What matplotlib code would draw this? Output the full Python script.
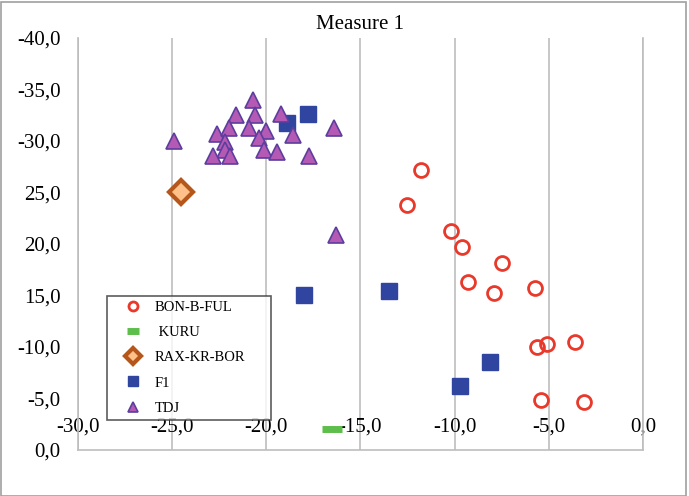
import matplotlib
matplotlib.use("Agg")
import matplotlib.pyplot as plt
from matplotlib.patches import Rectangle

plt.rcParams['font.family'] = ['Liberation Serif', 'DejaVu Serif']

# BON-B-FUL
bon_x = [-11.8, -12.5, -10.2, -9.6, -7.5, -9.3, -7.9, -5.7, -5.6, -5.1, -3.6, -5.4, -3.1]
bon_y = [-27.2, -23.8, -21.2, -19.7, -18.1, -16.3, -15.2, -15.7, -10.0, -10.3, -10.5, -4.8, -4.6]
# KURU
kuru_x = [-16.5]
kuru_y = [-2.0]
# RAX-KR-BOR
rax_x = [-24.5]
rax_y = [-25.0]
# F1
f1_x = [-18.9, -17.8, -18.0, -13.5, -8.1, -9.7]
f1_y = [-31.7, -32.6, -15.0, -15.4, -8.5, -6.2]
# TDJ
tdj_x = [-24.9, -20.7, -21.6, -20.6, -22.6, -22.0, -20.9, -20.0, -22.2, -20.4,
         -22.2, -22.8, -21.9, -20.1, -19.4, -19.2, -18.6, -17.7, -16.4, -16.3]
tdj_y = [-30.0, -34.0, -32.5, -32.5, -30.7, -31.2, -31.2, -30.9, -29.9, -30.3,
         -29.1, -28.5, -28.5, -29.1, -28.9, -32.6, -30.6, -28.5, -31.2, -20.9]

x_ticks = [-30, -25, -20, -15, -10, -5, 0]
x_labels = ['-30,0', '-25,0', '-20,0', '-15,0', '-10,0', '-5,0', '0,0']
y_ticks = [-40, -35, -30, -25, -20, -15, -10, -5, 0]
y_labels = ['-40,0', '-35,0', '-30,0', '25,0', '20,0', '15,0', '-10,0', '-5,0', '0,0']

fig = plt.figure(figsize=(6.89, 4.96), dpi=100)
ax = fig.add_axes([0.113, 0.093, 0.82, 0.831])

ax.plot(bon_x, bon_y, 'o', ls='none', ms=10, mfc='none', mec='#E8392B', mew=2, label='BON-B-FUL', zorder=3)
ax.plot(kuru_x, kuru_y, '_', ls='none', ms=14, mec='#5DBE4B', mew=5, label=' KURU', zorder=3)
ax.plot(rax_x, rax_y, 'D', ls='none', ms=12, mfc='#FFC08A', mec='#B5561B', mew=3, label='RAX-KR-BOR', zorder=3)
ax.plot(f1_x, f1_y, 's', ls='none', ms=12, mfc='#2F45A0', mec='#2F45A0', mew=1, label='F1', zorder=3)
ax.plot(tdj_x, tdj_y, '^', ls='none', ms=11, mfc='#B45AB4', mec='#5B3E9E', mew=1.2, label='TDJ', zorder=4)

ax.set_xlim(-30, 0)
ax.set_ylim(0, -40)
ax.set_xticks(x_ticks)
ax.set_xticklabels([])
ax.tick_params(axis='x', length=0)
ax.set_yticks(y_ticks)
ax.set_yticklabels(y_labels, fontsize=15)
ax.tick_params(axis='y', length=0, pad=12.5)
ax.grid(axis='x', color='#BDBDBD', lw=1.2, zorder=0)

for t, lab in zip(x_ticks, x_labels):
    ax.text(t, -2.2, lab, ha='center', va='center', fontsize=15, zorder=2)

ax.spines['top'].set_visible(False)
for s in ['left', 'right', 'bottom']:
    ax.spines[s].set_color('#BDBDBD')
    ax.spines[s].set_linewidth(1.2)

ax.set_title('Measure 1', fontsize=15, pad=6)

leg = ax.legend(loc='lower left', bbox_to_anchor=(0.0513, 0.073, 0.29, 0.3), mode='expand',
                fontsize=10.5, frameon=True, fancybox=False, edgecolor='#333333',
                labelspacing=0.82, handletextpad=0.1, borderpad=0.35, handlelength=2.85,
                markerscale=0.65, borderaxespad=0)
leg.get_frame().set_linewidth(1.2)

fig.patches.append(Rectangle((0.001, 0.001), 0.995, 0.994, transform=fig.transFigure,
                             fill=False, edgecolor='#A0A0A0', lw=1.2))

fig.savefig('out.png', dpi=100)
